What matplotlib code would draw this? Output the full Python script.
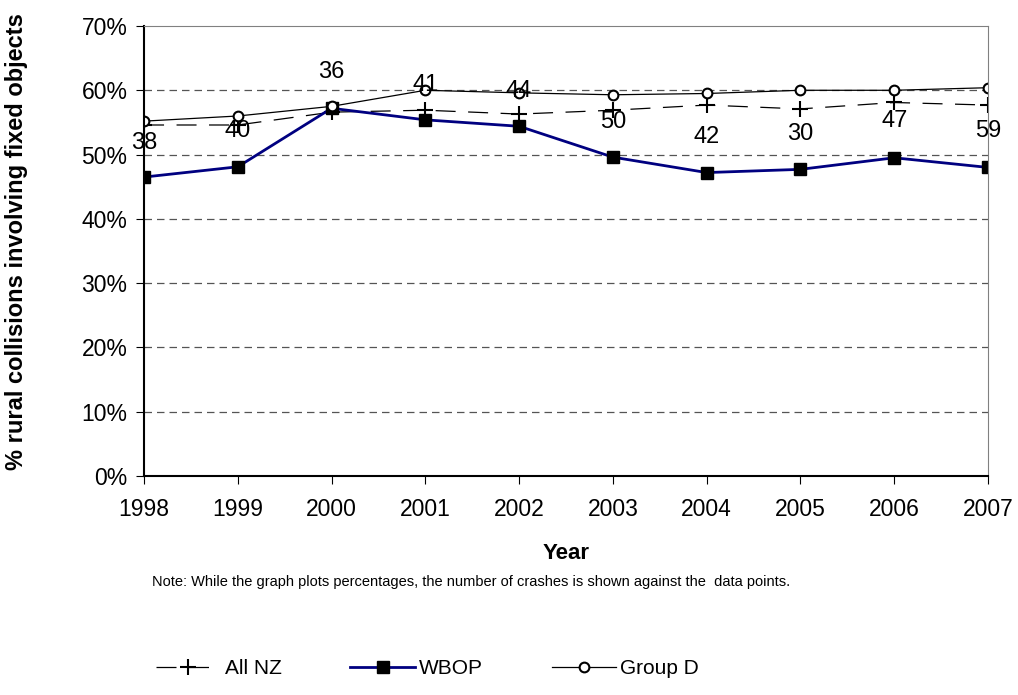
import matplotlib.pyplot as plt
from matplotlib.ticker import PercentFormatter

plt.rcParams['font.family'] = ['Liberation Sans', 'DejaVu Sans']

years = [1998, 1999, 2000, 2001, 2002, 2003, 2004, 2005, 2006, 2007]
all_nz = [54.6, 54.6, 56.6, 56.9, 56.3, 56.9, 57.7, 57.1, 58.1, 57.7]
wbop = [46.5, 48.1, 57.2, 55.4, 54.4, 49.6, 47.2, 47.7, 49.5, 48.0]
group_d = [55.2, 56.0, 57.5, 60.0, 59.6, 59.3, 59.5, 60.0, 60.0, 60.4]
crashes = [38, 40, 36, 41, 44, 50, 42, 30, 47, 59]

# label offsets from the Group D points (pixels, down is positive)
label_dy = [22, 15, -34, -5, -2, 27, 44, 44, 31, 43]

fig = plt.figure(figsize=(10.18, 6.95), dpi=100)
ax = fig.add_axes([0.1415, 0.3151, 0.829, 0.6475])

ax.plot(years, all_nz, color='black', lw=0.9, dashes=(16, 10),
        marker='+', ms=12, mew=1.5, label='All NZ')
ax.plot(years, wbop, color='#000080', lw=2, marker='s', ms=9,
        mfc='black', mec='black', label='WBOP')
ax.plot(years, group_d, color='black', lw=0.9, marker='o', ms=7,
        mfc='white', mec='black', mew=1.5, label='Group D')

for x, y, n, dy in zip(years, group_d, crashes, label_dy):
    ax.annotate(str(n), (x, y), xytext=(0, -dy * 0.72), textcoords='offset points',
                ha='center', va='center', fontsize=17)

ax.set_xlim(1998, 2007)
ax.set_ylim(0, 70)
ax.set_xticks(years)
ax.set_yticks(range(0, 71, 10))
ax.yaxis.set_major_formatter(PercentFormatter(decimals=0))
ax.tick_params(labelsize=16.5, length=6, direction='out', color='black')
ax.tick_params(axis='x', pad=10)
ax.tick_params(axis='y', pad=6)
for y in range(10, 70, 10):
    ax.axhline(y, color='#555555', lw=0.9, dashes=(6, 4), zorder=0)

ax.spines['left'].set_linewidth(1.5)
ax.spines['bottom'].set_linewidth(1.5)
ax.spines['top'].set_color('#808080')
ax.spines['right'].set_color('#808080')

ax.set_ylabel('% rural collisions involving fixed objects', fontsize=17,
              fontweight='bold', labelpad=28)
ax.yaxis.set_label_coords(-0.138, 0.52)
ax.set_xlabel('Year', fontsize=16, fontweight='bold', labelpad=16)

fig.text(0.463, 0.163, 'Note: While the graph plots percentages, the number of crashes is shown against the  data points.',
         ha='center', va='center', fontsize=10.5)

fig.legend(loc='center', bbox_to_anchor=(0.42, 0.038), ncol=3, frameon=False,
           fontsize=15, handlelength=3.1, columnspacing=3.3, handletextpad=0.2)

fig.savefig('out.png', dpi=100)
